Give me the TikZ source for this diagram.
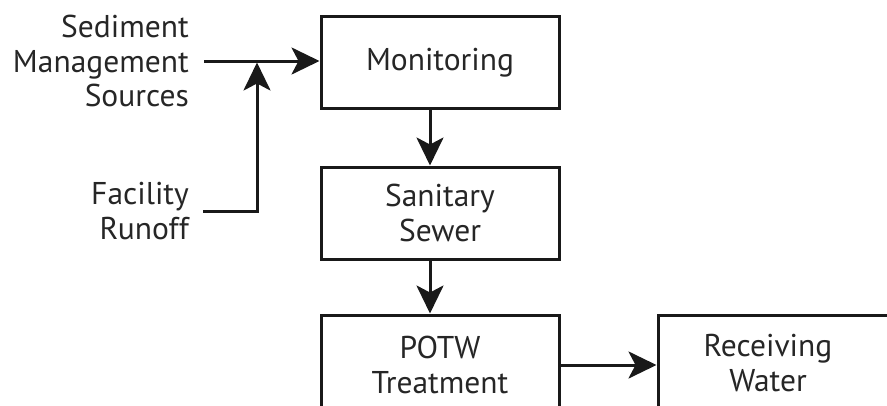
\documentclass[tikz,border=0pt]{standalone}
\usepackage{fontspec}
\setmainfont{PT Sans}
\usetikzlibrary{arrows.meta}
\begin{document}
\begin{tikzpicture}[x=1pt,y=-1pt,
  lbl/.style={font=\fontsize{31.5}{34.5}\selectfont,align=center,inner sep=0pt,text=black!85},
  box/.style={lbl,draw=black!90,line width=3pt,minimum width=238pt,minimum height=92pt},
  arr/.style={draw=black!90,line width=3pt,-{Stealth[length=28pt,width=27pt,inset=7pt]}}]
\useasboundingbox (0,0) rectangle (887,405);
\clip (0,0) rectangle (887,405);
\node[box] (mon) at (440,62.5) {Monitoring};
\node[box] (san) at (440,213) {Sanitary\\Sewer};
\node[box,minimum height=100pt] (potw) at (440,365) {POTW\\Treatment};
\node[box,minimum width=262pt,minimum height=100pt] (rw) at (789,365) {};
\node[lbl] (rwt) at (768,363) {Receiving\\Water};
\node[lbl,align=right,anchor=east] (sed) at (189,61) {Sediment\\Management\\Sources};
\node[lbl,align=right,anchor=east] (fac) at (189,211) {Facility\\Runoff};
\coordinate (j) at (257,61);
\draw[arr] ([xshift=15pt]sed.east) -- (sed.east -| mon.west);
\draw[arr,shorten >=1.5pt] ([xshift=14pt]fac.east) -| (j);
\draw[arr] ([xshift=-10pt]mon.south) -- ([xshift=-10pt]mon.south |- san.north);
\draw[arr] ([xshift=-10pt]san.south) -- ([xshift=-10pt]san.south |- potw.north);
\draw[arr] (potw.east) -- (rw.west);
\end{tikzpicture}
\end{document}
